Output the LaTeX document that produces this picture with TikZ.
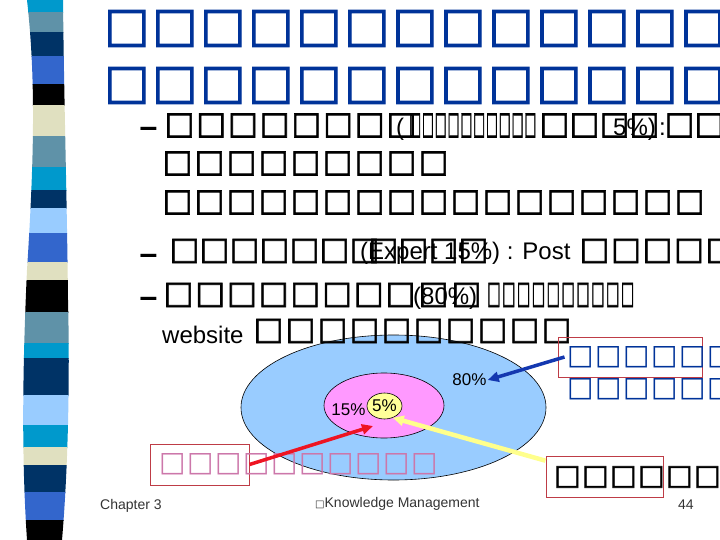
\documentclass[tikz,border=0pt]{standalone}
\usepackage{fontspec}
\setmainfont{Liberation Sans}
\newfontfamily\boxfont{DejaVu Sans}
\newfontfamily\heavybox{DejaVu Sans Bold}[FakeBold=2]
\usepackage{graphicx}
\usetikzlibrary{arrows.meta,positioning,shapes.geometric}
\definecolor{stcyan}{RGB}{0,153,204}
\definecolor{ststeel}{RGB}{95,146,168}
\definecolor{stnavy}{RGB}{0,51,102}
\definecolor{stroyal}{RGB}{51,102,204}
\definecolor{stbeige}{RGB}{224,224,192}
\definecolor{stsky}{RGB}{153,204,255}
\definecolor{titleblue}{RGB}{0,51,153}
\definecolor{ellblue}{RGB}{153,204,255}
\definecolor{ellpink}{RGB}{255,153,255}
\definecolor{ellyel}{RGB}{255,255,153}
\definecolor{arrblue}{RGB}{20,56,176}
\definecolor{arrred}{RGB}{238,20,34}
\definecolor{lineyel}{RGB}{255,255,140}
\definecolor{framered}{RGB}{190,60,70}
\definecolor{pinktxt}{RGB}{204,119,170}
\newcommand\tofus[2]{\foreach\k in {1,...,#1}{\makebox[#2][l]{□}}}
\tikzset{ttl/.style={font=\fontsize{48}{48}\heavybox, text=titleblue, inner sep=0pt, anchor=west}, bxs/.style={font=\fontsize{31.5}{31.5}\heavybox, inner sep=0pt, anchor=west}, smb/.style={font=\fontsize{28}{28}\boxfont, inner sep=0pt, anchor=west}, txt/.style={font=\fontsize{24}{24}\selectfont, inner sep=0pt, anchor=base west}, dsh/.style={font=\fontsize{32}{32}\selectfont\bfseries, inner sep=0pt}, frm/.style={draw=framered, line width=1pt, inner sep=0pt}, ell/.style={ellipse, draw=black, line width=0.6pt, inner sep=0pt}, lbl/.style={font=\fontsize{17}{17}\selectfont, inner sep=1pt}, ftr/.style={font=\fontsize{14}{14}\selectfont, text=black!80, inner sep=0pt, anchor=west}, arr/.style={-{Triangle[length=11pt,width=10pt]}, line width=3.5pt}}

\begin{document}
\begin{tikzpicture}[x=1pt,y=-1pt]
\useasboundingbox (0,0) rectangle (720,540);
\clip (0,0) rectangle (720,540);
\begin{scope}
\clip (27,0) .. controls (36,80) and (34,160) .. (27,270) .. controls (21,400) and (23,480) .. (27,540) -- (62,540) .. controls (68,470) and (70,380) .. (68,300) .. controls (67,200) and (64,100) .. (63,0) -- cycle;
\foreach \ya/\yb/\c in {0/12/stcyan, 12/32/ststeel, 32/56/stnavy, 56/84/stroyal, 84/105/black, 105/136/stbeige, 136/167/ststeel, 167/190/stcyan, 190/208/stnavy, 208/233/stsky, 233/262/stroyal, 262/280/stbeige, 280/312/black, 312/343/ststeel, 343/358/stcyan, 358/395/stnavy, 395/425/stsky, 425/447/stcyan, 447/465/stbeige, 465/492/stnavy, 492/520/stroyal, 520/540/black}
  \fill[\c] (0,\ya) rectangle (100,\yb+1);
\end{scope}
\node[ell, fill=ellblue, minimum width=305, minimum height=145] (outer) at (393.5,407.5) {};
\node[ell, fill=ellpink, minimum width=120, minimum height=65] (mid) at (384,405.5) {};
\node[ell, fill=ellyel, minimum width=35, minimum height=26, font=\fontsize{17}{17}\selectfont] (inner) at (384.5,406) {5\%};
\node[lbl] (p80) at (469.5,380) {80\%};
\node[lbl] (p15) at (348.5,410) {15\%};
\node[ttl] (ttlA) at (104,28.5) {\tofus{14}{48pt}};
\node[ttl] (ttlB) at (104,85.5) {\tofus{14}{48pt}};
\node[dsh] (dA) at (148.5,132) {–};
\node[bxs] (rowA) at (164.5,125.5) {\tofus{8}{31.7pt}};
\node[txt] (parA) at (396,136) {(};
\node[bxs] (sqzA) at (409,125.5) {\scalebox{0.4}[1]{\tofus{10}{32pt}}};
\node[bxs] (rowA2) at (539.5,125.5) {\tofus{4}{30pt}};
\node[txt] (pctA) at (613,136) {5\%)};
\node[txt] (colA) at (659,136) {:};
\node[bxs] (rowA3) at (664.5,125.5) {\tofus{3}{30pt}};
\node[bxs] (rowB) at (162.5,163.5) {\tofus{9}{32pt}};
\node[bxs] (rowC) at (162.5,202.5) {\tofus{17}{32pt}};
\node[dsh] (dD) at (148.5,259) {–};
\node[bxs] (rowD) at (169.5,251) {\tofus{7}{30pt}};
\node[txt] (expD) at (360,259) {(Expert 15\%) : Post};
\node[bxs] (rowD2) at (368.5,251) {\tofus{4}{30pt}};
\node[bxs] (rowD3) at (579.5,251) {\tofus{5}{31.5pt}};
\node[dsh] (dE) at (148.5,302) {–};
\node[bxs] (rowE) at (163.5,295) {\tofus{8}{31.7pt}};
\node[txt] (pctE) at (413,304) {(80\%)};
\node[bxs] (rowE2) at (418.5,295) {\tofus{2}{33pt}};
\node[bxs] (sqzE) at (487,295) {\scalebox{0.45}[1]{\tofus{10}{33pt}}};
\node[txt] (web) at (162,343) {website};
\node[bxs] (rowF) at (253.5,331) {\tofus{10}{32pt}};
\node[frm, minimum width=144, minimum height=40] (frTR) at (630,357) {};
\node[frm, minimum width=99, minimum height=41] (frBL) at (199.5,464.5) {};
\node[frm, minimum width=117, minimum height=41] (frBR) at (604.5,476.5) {};
\node[smb, text=titleblue] (blu1) at (567,357) {\tofus{6}{28pt}};
\node[smb, text=titleblue] (blu2) at (567,389.5) {\tofus{6}{28pt}};
\node[smb, text=pinktxt] (pnk) at (159,464) {\tofus{10}{28pt}};
\node[smb, font=\fontsize{28}{28}\heavybox] (blk) at (554,477) {\tofus{7}{28pt}};
\coordinate (hit) at (373,426);
\draw[arr, draw=arrblue] ([xshift=7pt]frTR.west) -- (p80.east);
\draw[arr, draw=arrred] (frBL.east) -- (hit);
\draw[arr, draw=lineyel, line width=4.5pt] (frBR.165) -- (inner.-55);
\node[ftr] (chap) at (100,506) {Chapter 3};
\node[ftr] (km) at (315,504) {{\fontsize{10}{10}\boxfont □}Knowledge Management};
\node[ftr] (pg) at (678,505) {44};
\end{tikzpicture}
\end{document}
